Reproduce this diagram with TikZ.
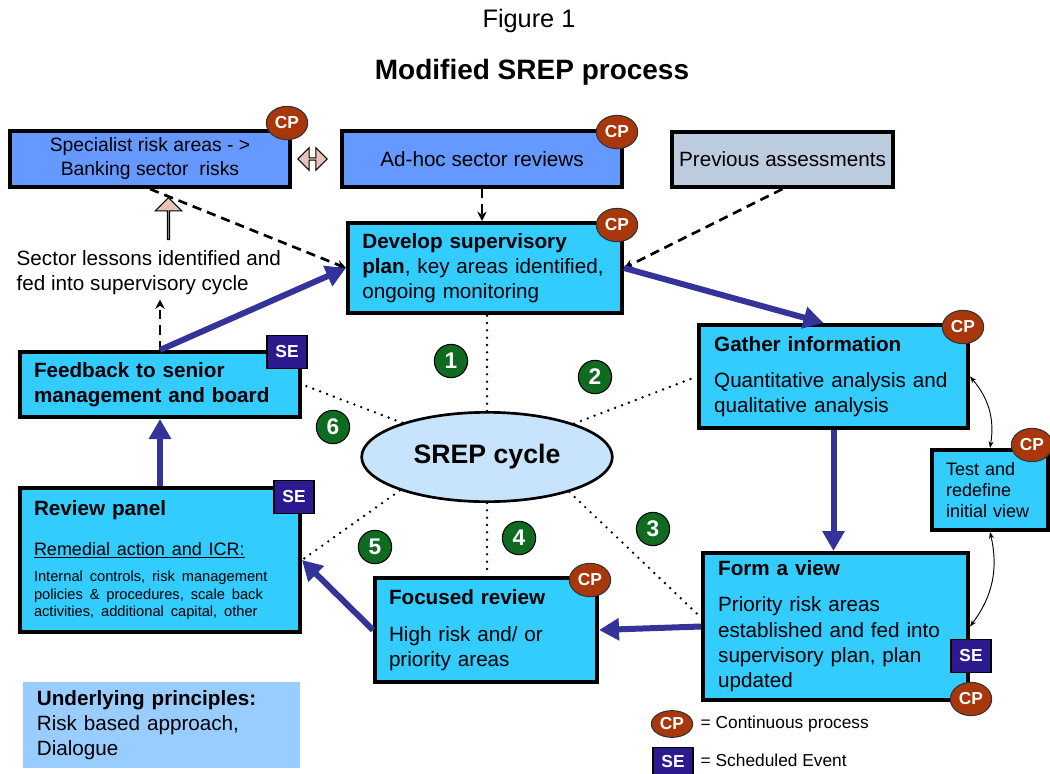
\documentclass[tikz,border=0pt]{standalone}
\usepackage{fontspec}
\setmainfont{Liberation Sans}
\usetikzlibrary{calc}
\usetikzlibrary{arrows.meta,shapes.geometric,shapes.arrows}
\definecolor{midblue}{HTML}{6699FF}
\definecolor{greyblue}{HTML}{BCCCDE}
\definecolor{cyanbox}{HTML}{33CCFF}
\definecolor{srepfill}{HTML}{C8E4FC}
\definecolor{princ}{HTML}{99CCFF}
\definecolor{cpred}{HTML}{A8370C}
\definecolor{sepurple}{HTML}{2C1B8E}
\definecolor{numgreen}{HTML}{0F6B1F}
\definecolor{flowblue}{HTML}{333399}
\definecolor{pinkarrow}{HTML}{E8C4B8}

\begin{document}
\begin{tikzpicture}[x=0.75pt,y=-0.75pt,
    txt/.style={font=\fontsize{15.5}{19}\selectfont},
    box/.style={draw,line width=3pt,inner sep=0pt,txt,align=left},
    cpbadge/.style={ellipse,draw=black!80,line width=0.8pt,fill=cpred,text=white,inner sep=0pt,
      minimum width=31pt,minimum height=25pt,font=\fontsize{13}{13}\selectfont\bfseries},
    sebadge/.style={rectangle,draw=black,line width=0.8pt,fill=sepurple,text=white,inner sep=0pt,
      minimum width=30pt,minimum height=25pt,font=\fontsize{13}{13}\selectfont\bfseries},
    stage/.style={circle,draw=black,line width=0.8pt,fill=numgreen,text=white,inner sep=0pt,
      minimum size=25pt,font=\fontsize{17}{17}\selectfont\bfseries},
    flow/.style={draw=flowblue,line width=4.5pt,-{Triangle[length=15pt,width=16pt]}},
    feed/.style={draw=black,line width=2pt,dash pattern=on 7pt off 4.5pt,-{Stealth[length=7pt,width=7pt]}},
    link/.style={draw=black,line width=2pt,dash pattern=on 0pt off 5.5pt,line cap=round},
    loop/.style={draw=black,line width=0.7pt,{Stealth[length=5pt]}-{Stealth[length=5pt]}}]
  \useasboundingbox (0,0) rectangle (1050,774);

  \node (fig) at (529,21) {\fontsize{19}{19}\selectfont Figure 1};
  \node (ttl) at (532,72) {\fontsize{21}{21}\selectfont\bfseries Modified SREP process};

  \node[box,align=center,fill=midblue,minimum width=210pt,minimum height=42pt,font=\fontsize{14.5}{18}\selectfont] (spec) at (150,159) {Specialist risk areas - >\\Banking sector\ \ risks};
  \node[box,align=center,fill=midblue,minimum width=210pt,minimum height=42pt] (adh) at (482,159) {Ad-hoc sector reviews};
  \node[box,align=center,fill=greyblue,minimum width=165.75pt,minimum height=41.25pt] (prev) at (782.5,159.5) {Previous assessments};
  \node[box,fill=cyanbox,minimum width=205.5pt,minimum height=67.5pt,text width=184pt] (dev) at (485,268) {\textbf{Develop supervisory}\\\textbf{plan}, key areas identified,\\ongoing monitoring};
  \node[box,fill=cyanbox,minimum width=201.75pt,minimum height=77.25pt,text width=179pt] (gat) at (833.5,376.5) {\textbf{Gather information}\\[8pt]Quantitative analysis and\\qualitative analysis};
  \node[box,fill=cyanbox,minimum width=87pt,minimum height=60pt,text width=66pt,font=\fontsize{13.5}{15.75}\selectfont] (tst) at (990,490) {Test and\\redefine\\initial view};
  \node[box,fill=cyanbox,minimum width=198.75pt,minimum height=110.25pt,text width=176pt] (frm) at (835.5,626.5) {\textbf{Form a view}\\[8pt]Priority risk areas\\established and fed into\\supervisory plan, plan\\updated};
  \node[box,fill=cyanbox,minimum width=166.5pt,minimum height=78pt,text width=145.5pt] (foc) at (486,630) {\textbf{Focused review}\\[9pt]High risk and/ or\\priority areas};
  \node[box,fill=cyanbox,minimum width=210pt,minimum height=108pt,text width=189pt] (rev) at (160,560) {\raggedright\textbf{Review panel}\par\vspace{14pt}%
    {\raggedright\fontsize{13.5}{16}\selectfont\underline{Remedial action and ICR:}\par}\vspace{7pt}%
    {\raggedright\fontsize{11}{13}\selectfont Internal controls, risk management\\policies \& procedures, scale back\\activities, additional capital, other\par}};
  \node[box,fill=cyanbox,minimum width=210pt,minimum height=48.75pt,text width=189pt] (fb) at (160,384.5) {\textbf{Feedback to senior}\\\textbf{management and board}};
  \node[ellipse,draw,line width=2pt,fill=srepfill,minimum width=188pt,minimum height=67pt,font=\fontsize{20}{20}\selectfont\bfseries] (srep) at (487,457) {SREP cycle};
  \node[txt,fill=princ,inner sep=0pt,minimum width=207.75pt,minimum height=64.5pt,text width=187pt,align=left] (prin) at (161.5,725) {\textbf{Underlying principles:}\\Risk based approach,\\Dialogue};
  \node[txt,align=left,anchor=west] (lessons) at (12,272.5) {Sector lessons identified and\\fed into supervisory cycle};

  \node[double arrow,draw,line width=0.8pt,fill=pinkarrow,inner sep=0pt,minimum height=22pt,minimum width=17pt,double arrow head extend=3.5pt] (swap) at (312.5,159) {};
  \node[single arrow,draw,line width=0.8pt,fill=pinkarrow,inner sep=0pt,minimum height=31.5pt,minimum width=20pt,single arrow head extend=5pt,shape border rotate=90] (up) at (168.5,219) {};

  \draw[link] (srep.north) -- (srep.north |- dev.south);
  \draw[link] (srep.21) -- (gat.west);
  \draw[link] (srep.-23) -- ($(frm.west)+(0,-9)$);
  \draw[link] (srep.south) -- (srep.south |- foc.north);
  \draw[link] (srep.201) -- (rev.east);
  \draw[link] (srep.158) -- (fb.east);

  \draw[feed] (spec.south) -- (dev.west);
  \draw[feed] (adh.south) -- (adh.south |- dev.north);
  \draw[feed] (prev.south) -- (dev.east);
  \draw[feed] (fb.north) -- (fb.north |- lessons.south);

  \draw[flow] (fb.north) -- (dev.west);
  \draw[flow] (dev.east) -- ($(gat.north)+(-10,0)$);
  \draw[flow] (gat.south) -- (gat.south |- frm.north);
  \draw[flow] (frm.west) -- (foc.east);
  \draw[flow] (foc.west) -- (rev.east);
  \draw[flow] (rev.north) -- (fb.south);

  \draw[loop] (gat.east) to[bend left=25] (tst.north);
  \draw[loop] (tst.south) to[bend left=25] (frm.east);

  \node[stage] (s1) at (451,361) {1};
  \node[stage] (s2) at (595,377) {2};
  \node[stage] (s3) at (653,529) {3};
  \node[stage] (s4) at (519,538) {4};
  \node[stage] (s5) at (375,547) {5};
  \node[stage] (s6) at (333,427) {6};

  \node[cpbadge] (cpspec) at (287,123) {CP};
  \node[cpbadge] (cpadh) at (617,132) {CP};
  \node[cpbadge] (cpdev) at (617,225) {CP};
  \node[cpbadge] (cpgat) at (963,327) {CP};
  \node[cpbadge] (cptst) at (1032,445) {CP};
  \node[sebadge] (sefrm) at (971,656) {SE};
  \node[cpbadge] (cpfrm) at (971,699) {CP};
  \node[cpbadge] (cpfoc) at (590,580) {CP};
  \node[sebadge] (serev) at (294,497) {SE};
  \node[sebadge] (sefb) at (287,352) {SE};

  \node[cpbadge,minimum height=20pt] (legcp) at (672,724) {CP};
  \node[anchor=west,font=\fontsize{13}{13}\selectfont] (legcpt) at (696,724) {= Continuous process};
  \node[sebadge,minimum height=22pt] (legse) at (673,762) {SE};
  \node[anchor=west,font=\fontsize{13}{13}\selectfont] (legset) at (696,760) {= Scheduled Event};
\end{tikzpicture}
\end{document}
